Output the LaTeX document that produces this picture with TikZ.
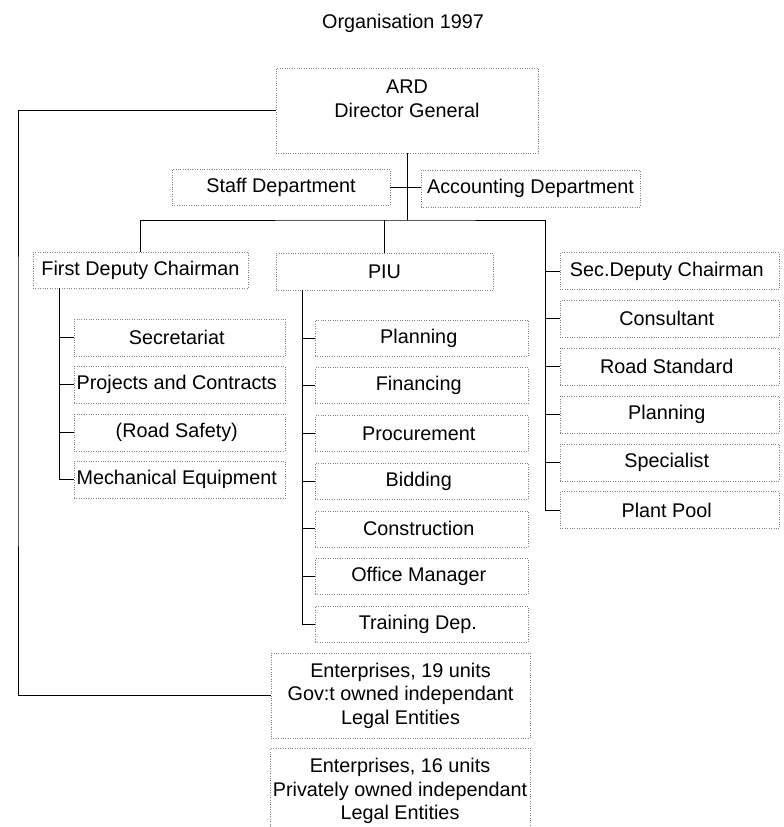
\documentclass[tikz,border=0pt]{standalone}
\usepackage{fontspec}
\setmainfont{Liberation Sans}
\usetikzlibrary{matrix}
\tikzset{
    unit/.style={draw=black!50, dotted, rectangle, outer sep=0pt, inner sep=2pt, align=center},
    link/.style={draw=black, solid, line width=0.8pt}
}
\def\DeputyUnits{
    \matrix (deputy)
    [matrix of nodes,
    ampersand replacement=\&,
    row sep={10pt},
    nodes={unit, minimum width=211pt, minimum height=37pt}] at (179.5,408.5)
    {
     Secretariat \\
     Projects and Contracts \\
     {(Road Safety)} \\
     Mechanical Equipment \\
};
}
\def\PiuUnits{
    \matrix (piu)
    [matrix of nodes,
    ampersand replacement=\&,
    row sep={11.3pt},
    nodes={unit, minimum width=213pt, minimum height=36pt}] at (421.5,481)
    {
     Planning \\
     Financing \\
     Procurement \\
     Bidding \\
     Construction \\
     Office Manager \\
     Training Dep. \\
};
}
\def\SecondUnits{
    \matrix (second)
    [matrix of nodes,
    ampersand replacement=\&,
    row sep={10.4pt},
    nodes={unit, minimum width=219pt, minimum height=37pt}] at (669.5,390.5)
    {
     Sec.Deputy Chairman \\
     Consultant \\
     Road Standard \\
     Planning \\
     Specialist \\
     Plant Pool \\
};
}

\begin{document}
\begin{tikzpicture}[x=1pt, y=-1pt, font=\fontsize{19.8}{23.5}\selectfont]
    \useasboundingbox (0,0) rectangle (784,827);

    \node (title) at (403,23) {Organisation 1997};
    \node[unit, minimum width=262pt, minimum height=85pt, font=\fontsize{19.8}{24}\selectfont] (ard) at (407,110.5) {ARD\\Director General\\~};
    \node[unit, minimum width=218pt, minimum height=36pt] (staff) at (281,187) {Staff Department};
    \node[unit, minimum width=219pt, minimum height=37pt] (acct) at (530.5,188.5) {Accounting Department};
    \node[unit, minimum width=215pt, minimum height=36pt] (deputyhead) at (140.5,270) {First Deputy Chairman};
    \node[unit, minimum width=217pt, minimum height=37pt] (piuhead) at (384.5,271.5) {PIU};
    \DeputyUnits
    \PiuUnits
    \SecondUnits
    \node[unit, minimum width=259pt, minimum height=85pt] (ent19) at (400.5,695.5) {Enterprises, 19 units\\Gov:t owned independant\\Legal Entities};
    \node[unit, minimum width=260pt, minimum height=86pt] (ent16) at (400,791) {Enterprises, 16 units\\Privately owned independant\\Legal Entities};

    \coordinate (split) at (ard.south |- 0,220);
    \coordinate (deputyrail) at ([xshift=26pt]deputyhead.south west);
    \coordinate (piurail) at ([xshift=26pt]piuhead.south west);
    \coordinate (secondrail) at ([xshift=-15pt]second-1-1.west);
    \coordinate (leftrail) at (18,400);

    % top level
    \draw[link] (ard.south) -- (split);
    \draw[link] (staff.east) -- (staff.east -| acct.west);
    \draw[link] (deputyhead.north) |- (split) -| (secondrail |- second-6-1.west);
    \draw[link] (piuhead.north) -- (piuhead.north |- split);
    \draw[link] (ard.west) -| (leftrail) |- (ent19.west);

    % first deputy chairman
    \draw[link] (deputyrail) |- (deputy-4-1.west);
    \draw[link] (deputyrail |- deputy-1-1.west) -- (deputy-1-1.west);
    \draw[link] (deputyrail |- deputy-2-1.west) -- (deputy-2-1.west);
    \draw[link] (deputyrail |- deputy-3-1.west) -- (deputy-3-1.west);

    % PIU
    \draw[link] (piurail) |- (piu-7-1.west);
    \draw[link] (piurail |- piu-1-1.west) -- (piu-1-1.west);
    \draw[link] (piurail |- piu-2-1.west) -- (piu-2-1.west);
    \draw[link] (piurail |- piu-3-1.west) -- (piu-3-1.west);
    \draw[link] (piurail |- piu-4-1.west) -- (piu-4-1.west);
    \draw[link] (piurail |- piu-5-1.west) -- (piu-5-1.west);
    \draw[link] (piurail |- piu-6-1.west) -- (piu-6-1.west);

    % second deputy chairman
    \draw[link] (secondrail) -- (second-1-1.west);
    \draw[link] (secondrail |- second-2-1.west) -- (second-2-1.west);
    \draw[link] (secondrail |- second-3-1.west) -- (second-3-1.west);
    \draw[link] (secondrail |- second-4-1.west) -- (second-4-1.west);
    \draw[link] (secondrail |- second-5-1.west) -- (second-5-1.west);
    \draw[link] (secondrail |- second-6-1.west) -- (second-6-1.west);
\end{tikzpicture}
\end{document}
